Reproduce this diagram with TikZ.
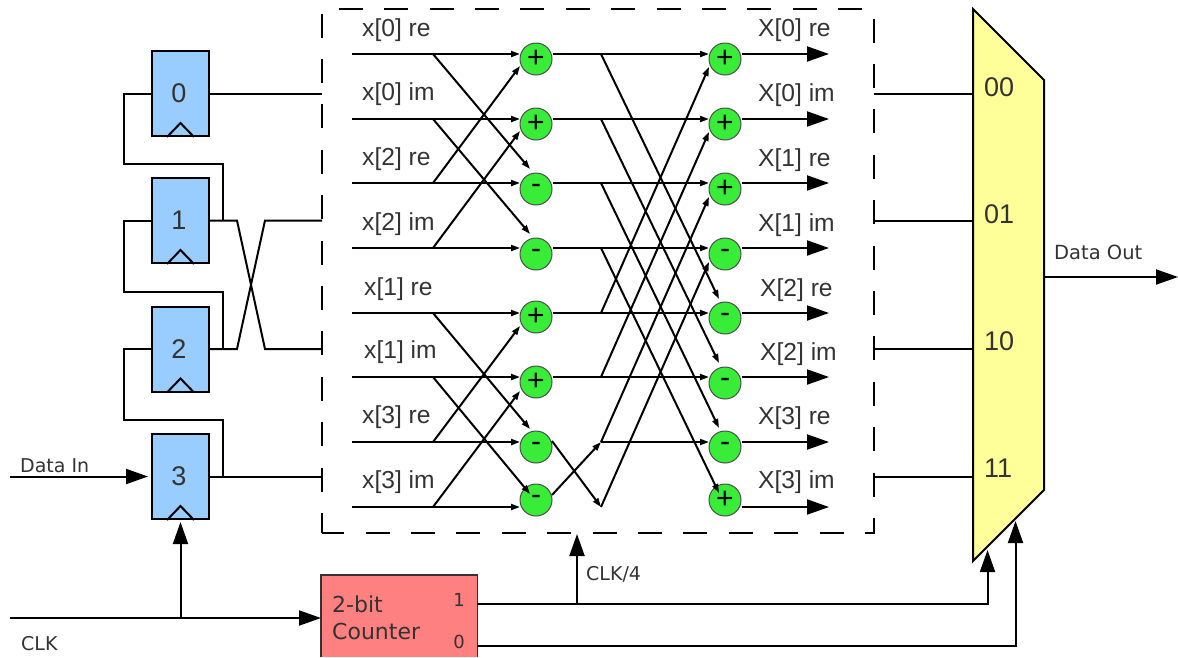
\documentclass[tikz,border=0pt]{standalone}
\usepackage{fontspec}
\setmainfont{Liberation Sans}
\newfontfamily\vfont{DejaVu Sans}
\usetikzlibrary{arrows.meta,calc}
\definecolor{txt}{HTML}{333333}
\definecolor{regblue}{HTML}{99CCFF}
\definecolor{cntred}{HTML}{FF8080}
\definecolor{muxyel}{HTML}{FFFF99}
\definecolor{opgreen}{HTML}{38EC38}
\tikzset{
  wire/.style={line width=2pt,black,line join=miter},
  small/.style={wire,-{Triangle[length=9pt,width=6pt]}},
  big/.style={wire,-{Triangle[length=22pt,width=15pt]}},
  reg/.style={draw=black,line width=2pt,fill=regblue,minimum width=57pt,minimum height=85pt,inner sep=0pt,text=txt,font=\fontsize{27}{30}\selectfont},
  clk/.style={wire},
  op/.style={circle,draw=black!70,line width=1pt,fill=opgreen,minimum size=32pt,inner sep=0pt,text=black,font=\fontsize{30}{32}\selectfont},
  sig/.style={anchor=base west,inner sep=0pt,text=txt,font=\fontsize{24.6}{28}\selectfont},
  vlab/.style={anchor=base west,inner sep=0pt,text=txt,font=\vfont\fontsize{19}{22}\selectfont},
  cnt/.style={anchor=base west,inner sep=0pt,text=txt,font=\vfont\fontsize{22}{26}\selectfont},
  bit/.style={inner sep=0pt,text=txt,font=\vfont\fontsize{18}{22}\selectfont},
  muxlab/.style={anchor=base west,inner sep=0pt,text=txt,font=\fontsize{27}{30}\selectfont},
}
\begin{document}
\begin{tikzpicture}[x=1pt,y=-1pt]
\useasboundingbox (0,0) rectangle (1178,657);
% dashed box
\coordinate (bl) at (322,533);
\coordinate (tl) at (322,9);
\coordinate (tr) at (874,9);
\coordinate (br) at (874,533);
\draw[line width=2pt,dash pattern=on 24pt off 21.4pt,dash phase=4pt] (bl) -- (tl) -- (tr) -- (br) -- cycle;
% registers
\node[reg] (r0) at (180.5,93.5) {\hspace*{-3pt}0};
\node[reg] (r1) at (180.5,220.5) {\hspace*{-3pt}1};
\node[reg] (r2) at (180.5,349) {\hspace*{-3pt}2};
\node[reg] (r3) at (180.5,476.5) {\hspace*{-3pt}3};
\foreach \r in {r0,r1,r2,r3}
  \draw[clk] ($(\r.south)+(-13.5,0)$) -- ($(\r.south)+(0,-14)$) -- ($(\r.south)+(13.5,0)$);
% shift chain
\coordinate (f0) at (124,164);
\coordinate (f1) at (124,292);
\coordinate (f2) at (124,419.5);
\coordinate (j1) at (223,220.5);
\coordinate (j2) at (223,349);
\coordinate (j3) at (223,476.5);
\draw[wire] (r0.west) -| (f0) -| (j1);
\draw[wire] (r1.west) -| (f1) -| (j2);
\draw[wire] (r2.west) -| (f2) -| (j3);
\draw[wire] (r0.east) -- (bl |- r0.east);
\draw[wire] (r3.east) -- (bl |- r3.east);
\coordinate (xa1) at (237,220.5);
\coordinate (xb1) at (265,349);
\coordinate (xa2) at (237,349);
\coordinate (xb2) at (265,220.5);
\draw[wire] (r1.east) -- (xa1) -- (xb1) -- (bl |- xb1);
\draw[wire] (r2.east) -- (xa2) -- (xb2) -- (bl |- xb2);
% inputs
\coordinate (di) at (10,476.5);
\draw[big] (di) -- ($(r3.west)+(-3,0)$);
\node[vlab] (ldi) at (20,472) {Data In};
\coordinate (ck) at (10,618);
\node[fill=cntred,minimum width=156pt,minimum height=82pt,inner sep=0pt,anchor=north west] (cn) at (321,575) {};
\draw[line width=1.2pt,black!80] (cn.south west) -- (cn.north west) -- (cn.north east) -- (cn.south east);
\draw[big] (ck) -- (cn.west |- ck);
\coordinate (cj) at (180.5,618);
\draw[big] (cj) -- ($(r3.south)+(0,2)$);
\node[vlab] (lck) at (21,650) {CLK};
\node[cnt] (c2) at (332,612) {2-bit};
\node[cnt] (c3) at (332,639) {Counter};
\node[bit] (b1) at (459,600) {1};
\node[bit] (b0) at (459,642) {0};
% counter outputs
\coordinate (o1) at (477,604);
\coordinate (o0) at (477,646);
\coordinate (s1) at (987.5,550);
\coordinate (s0) at (1015.5,521);
\draw[big] (o1) -| (s1);
\draw[big] (o0) -| (s0);
\coordinate (cj4) at (577,604);
\coordinate (ct4) at (577,534);
\draw[big] (cj4) -- (ct4);
\node[vlab] (l4) at (586,580) {CLK/4};
% mux
\draw[line width=2pt,fill=muxyel,line join=miter] (973,9) coordinate (m1) -- (1044,80) coordinate (m2) -- (1044,490) coordinate (m3) -- (973,561) coordinate (m4) -- cycle;
\foreach \y/\t [count=\i] in {94/00,220.5/01,349/10,476.5/11}{
  \coordinate (mi\i) at (973,\y);
  \draw[wire] (br |- mi\i) -- (mi\i);
}
\node[muxlab] (m00) at (984,96) {00};
\node[muxlab] (m01) at (984,223) {01};
\node[muxlab] (m10) at (984,350) {10};
\node[muxlab] (m11) at (984,477) {11};
\coordinate (mo) at (1044,277);
\coordinate (dout) at (1178,277);
\draw[big] (mo) -- (dout);
\node[vlab,font=\vfont\fontsize{19.5}{22}\selectfont] (ldo) at (1054,259) {Data Out};
% operators
\foreach \i/\y/\s in {1/59/+,2/124/+,3/189/-,4/254/-,5/317/+,6/382/+,7/447/-,8/500/-}
  \node[op] (a\i) at (536,\y) {\s};
\foreach \i/\y/\s in {1/59/+,2/124/+,3/189/+,4/254/-,5/318/-,6/383/-,7/447/-,8/500/+}
  \node[op] (z\i) at (725,\y) {\s};
% rows
\foreach \i/\y in {1/54,2/119,3/183,4/248,5/313,6/377,7/442,8/507}{
  \coordinate (in\i) at (352,\y);
  \coordinate (br\i) at (433,\y);
  \coordinate (ha\i) at (520,\y);
  \coordinate (mid\i) at (601,\y);
  \coordinate (hz\i) at (709,\y);
  \coordinate (out\i) at (829,\y);
  \draw[small] (in\i) -- (ha\i);
  \draw[big] (z\i.east |- in\i) -- (out\i);
}
\foreach \i in {1,...,6}
  \draw[small] (a\i.east |- in\i) -- (hz\i);
\draw[small] (mid7) -- (hz7);
% first-stage butterflies
\foreach \f/\t/\ex/\ey in {1/3/530/169,2/4/530/234,5/7/530/429,6/8/530/494,3/1/520/66,4/2/520/131,7/5/520/326,8/6/520/391}
  \draw[small] (br\f) -- (\ex,\ey);
% second stage
\foreach \f/\ey in {1/299,2/363,3/428,4/493}
  \draw[small] (mid\f) -- (719,\ey);
\foreach \f/\ey in {5/67,6/132,7/197,8/262}
  \draw[small] (mid\f) -- (709,\ey);
\coordinate (a7o) at (552,441);
\coordinate (a8o) at (552,495);
\draw[small] (a7o) -- (mid8);
\draw[small] (a8o) -- (mid7);
% labels
\foreach \x/\y/\t in {362/36/x[0] re,362/100/x[0] im,362/165/x[2] re,362/230/x[2] im,364/295/x[1] re,364/358/x[1] im,362/423/x[3] re,362/488/x[3] im,758/36/X[0] re,758/101/X[0] im,758/166/X[1] re,758/231/X[1] im,760/296/X[2] re,760/360/X[2] im,758/424/X[3] re,758/488/X[3] im}
  \node[sig] at (\x,\y) {\t};
\end{tikzpicture}
\end{document}
